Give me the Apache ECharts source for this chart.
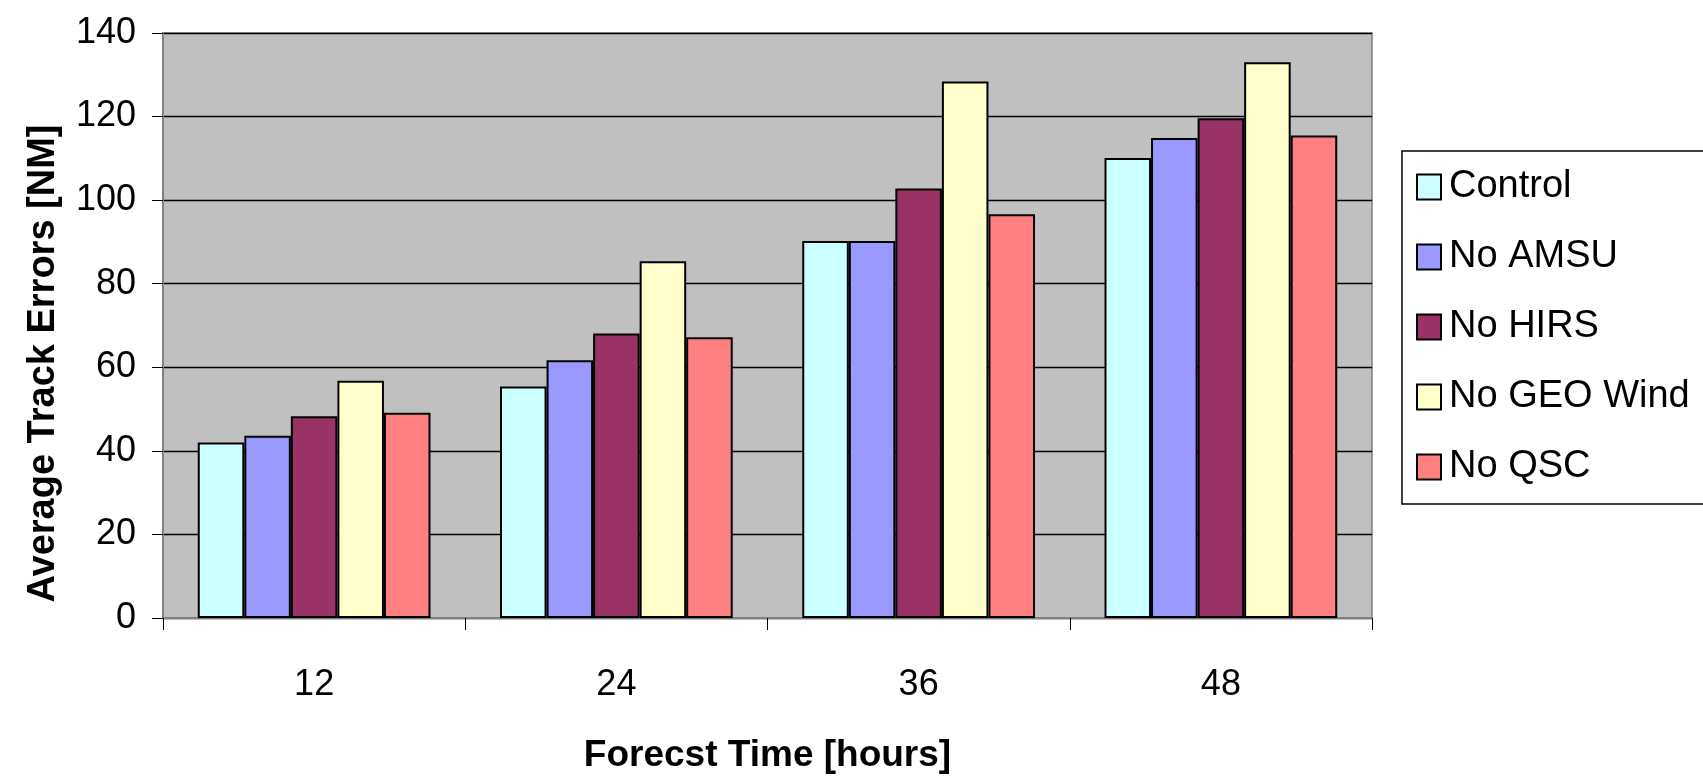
<!DOCTYPE html>
<html>
<head>
<meta charset="utf-8">
<script src="https://cdn.jsdelivr.net/npm/echarts@6/dist/echarts.min.js"></script>
<style>
  html, body { margin: 0; padding: 0; background: #fff; }
  #track-chart { width: 1703px; height: 779px; }
</style>
</head>
<body>
<div id="track-chart"></div>
<script>
var categories = ['12', '24', '36', '48'];
var seriesNames = ['Control', 'No AMSU', 'No HIRS', 'No GEO Wind', 'No QSC'];
var seriesColors = ['#CCFFFF', '#9999FF', '#993366', '#FFFFCC', '#FF8080'];

var control = [42.0, 55.4, 90.2, 110.1];
var noAmsu = [43.6, 61.7, 90.2, 114.9];
var noHirs = [48.3, 68.1, 102.8, 119.6];
var noGeoWind = [56.8, 85.4, 128.4, 133.0];
var noQsc = [49.1, 67.2, 96.6, 115.5];

var yTicks = [0, 20, 40, 60, 80, 100, 120, 140];

var trackChart = echarts.init(document.getElementById('track-chart'));

function buildSeries() {
    var values = [control, noAmsu, noHirs, noGeoWind, noQsc];
    var serie = [];
    for (var i = 0; i < seriesNames.length; i++) {
        serie.push({
            name: seriesNames[i],
            type: 'bar',
            barGap: '0%',
            barCategoryGap: '23%',
            itemStyle: {
                color: seriesColors[i],
                borderColor: '#000',
                borderWidth: 2
            },
            data: values[i]
        });
    }
    return serie;
}

trackChart.setOption({
    animation: false,
    textStyle: {
        fontFamily: 'Liberation Sans, Arial, sans-serif'
    },
    grid: {
        left: 163,
        right: 331,
        top: 33,
        bottom: 161,
        show: true,
        backgroundColor: '#C0C0C0',
        borderColor: '#808080',
        borderWidth: 1.5
    },
    legend: {
        orient: 'vertical',
        left: 1402,
        top: 151,
        padding: [16, 51, 17, 14],
        itemGap: 30,
        itemWidth: 24,
        itemHeight: 25,
        backgroundColor: '#fff',
        borderColor: '#000',
        borderWidth: 1.5,
        borderRadius: 0,
        icon: 'rect',
        itemStyle: {
            borderColor: '#000',
            borderWidth: 2
        },
        textStyle: {
            fontSize: 38,
            lineHeight: 40,
            color: '#000',
            padding: [0, 0, 0, 3]
        },
        data: seriesNames
    },
    xAxis: {
        type: 'category',
        data: categories,
        name: 'Forecst Time [hours]',
        nameLocation: 'middle',
        nameGap: 119,
        nameTextStyle: {
            fontSize: 37,
            fontWeight: 'bold',
            color: '#000'
        },
        axisLine: {
            lineStyle: { color: '#808080', width: 2 }
        },
        axisTick: {
            show: true,
            length: 12,
            lineStyle: { color: '#000', width: 1 }
        },
        axisLabel: {
            fontSize: 36,
            color: '#000',
            margin: 49
        }
    },
    yAxis: {
        type: 'value',
        min: yTicks[0],
        max: yTicks[yTicks.length - 1],
        interval: yTicks[1] - yTicks[0],
        name: 'Average Track Errors [NM]',
        nameLocation: 'middle',
        nameGap: 100,
        nameTextStyle: {
            fontSize: 38,
            fontWeight: 'bold',
            color: '#000',
            padding: [0, 76, 0, 0]
        },
        axisLine: {
            show: true,
            lineStyle: { color: '#808080', width: 2 }
        },
        axisTick: {
            show: true,
            length: 11,
            lineStyle: { color: '#000', width: 1 }
        },
        axisLabel: {
            fontSize: 36,
            color: '#000',
            margin: 27
        },
        splitLine: {
            lineStyle: { color: '#000', width: 1.3 }
        }
    },
    series: buildSeries()
});
</script>
</body>
</html>
